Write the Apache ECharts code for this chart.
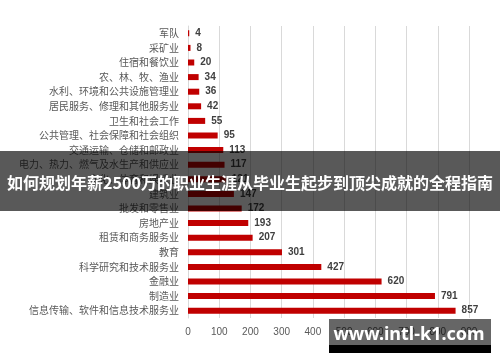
<!DOCTYPE html>
<html>
<head>
<meta charset="utf-8">
<script src="https://cdn.jsdelivr.net/npm/echarts@6/dist/echarts.min.js"></script>
<style>html,body{margin:0;padding:0;background:#fff;}#c{width:500px;height:362px;}</style>
</head>
<body>
<div id="c"></div>
<script>
var categories = ['军队','采矿业','住宿和餐饮业','农、林、牧、渔业','水利、环境和公共设施管理业','居民服务、修理和其他服务业','卫生和社会工作','公共管理、社会保障和社会组织','交通运输、仓储和邮政业','电力、热力、燃气及水生产和供应业','文化、体育和娱乐业','建筑业','批发和零售业','房地产业','租赁和商务服务业','教育','科学研究和技术服务业','金融业','制造业','信息传输、软件和信息技术服务业'];
var values = [4,8,20,34,36,42,55,95,113,117,121,147,172,193,207,301,427,620,791,857];
var xTicks = [0,100,200,300,400,500,600,700,800,900];
var bannerText = '如何规划年薪2500万的职业生涯从毕业生起步到顶尖成就的全程指南';
var watermarkText = 'www.intl-k1.com';

var chart = echarts.init(document.getElementById('c'));
chart.setOption({
  animation: false,
  grid: {left: 188, right: 31, top: 26, bottom: 44, containLabel: false},
  xAxis: {
    type: 'value', min: xTicks[0], max: xTicks[xTicks.length-1], interval: 100,
    axisLine: {show: false}, axisTick: {show: false},
    splitLine: {lineStyle: {color: '#d9d9d9', width: 1}},
    axisLabel: {color: '#595959', fontSize: 10, margin: 9, fontFamily: 'Liberation Sans'}
  },
  yAxis: {
    type: 'category', data: categories, inverse: true,
    axisLine: {show: true, lineStyle: {color: '#d9d9d9'}},
    axisTick: {show: false},
    axisLabel: {color: '#595959', fontSize: 10, margin: 9, fontFamily: 'Noto Sans CJK SC', interval: 0}
  },
  series: [{
    type: 'bar', data: values, barWidth: 6,
    itemStyle: {color: '#c00000'},
    label: {show: true, position: 'right', distance: 6, color: '#404040', fontWeight: 'bold', fontSize: 10, fontFamily: 'Liberation Sans'}
  }],
  graphic: [
    {type: 'rect', z: 100, shape: {x: 0, y: 151, width: 500, height: 60}, style: {fill: 'rgba(0,0,0,0.65)'}},
    {type: 'text', z: 101, x: 250, y: 183, style: {text: bannerText, fill: '#fff', fontSize: 16, fontWeight: 'bold', fontFamily: 'Noto Sans CJK SC', align: 'center', verticalAlign: 'middle'}},
    {type: 'rect', z: 100, shape: {x: 329, y: 319, width: 162, height: 26}, style: {fill: 'rgba(0,0,0,0.6)'}},
    {type: 'rect', z: 100, shape: {x: 329, y: 345, width: 162, height: 8}, style: {fill: '#000'}},
    {type: 'text', z: 101, x: 409, y: 335, style: {text: watermarkText, fill: '#fff', fontSize: 18, fontWeight: 'bold', fontFamily: 'Noto Sans', align: 'center', verticalAlign: 'middle'}}
  ]
});
</script>
</body>
</html>
